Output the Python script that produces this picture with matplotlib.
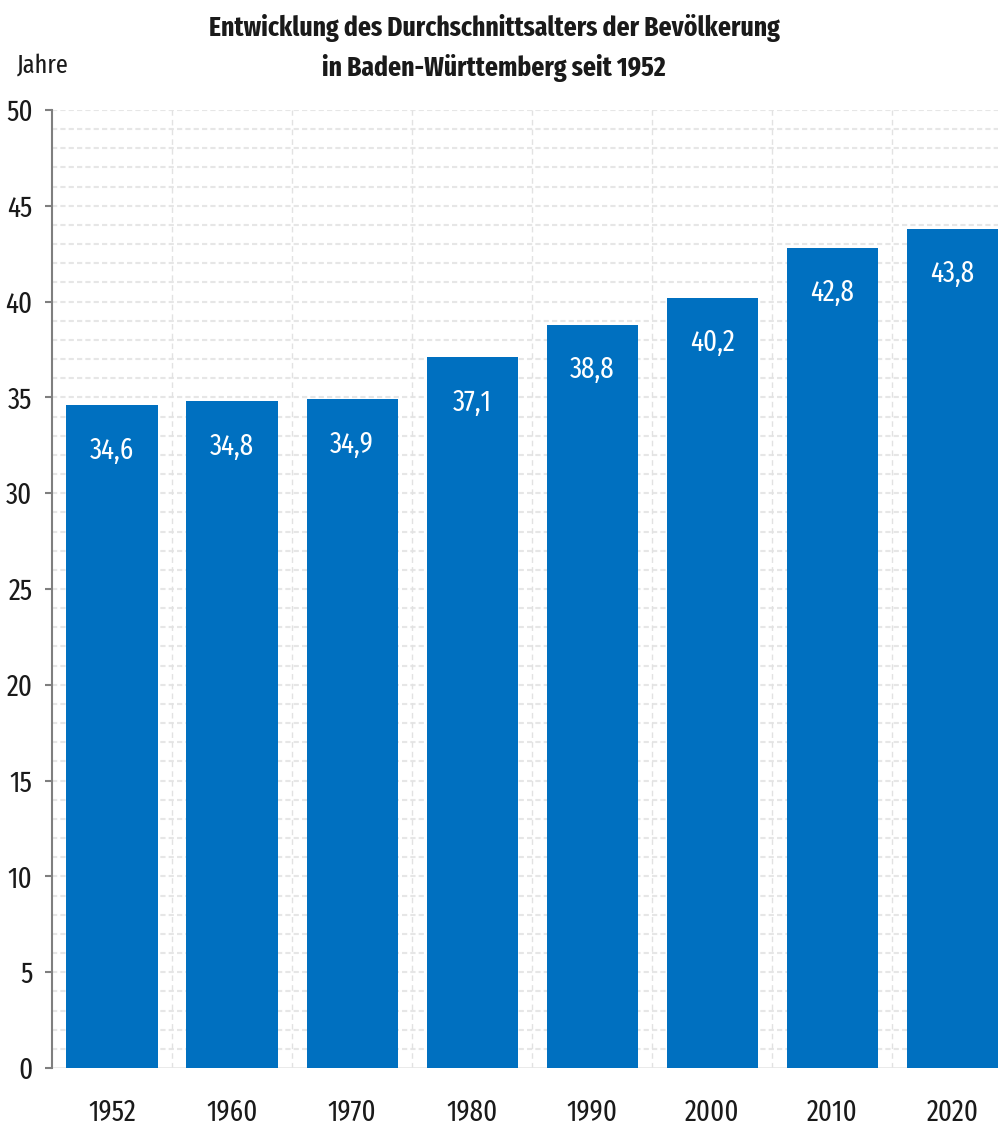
import matplotlib
matplotlib.use("Agg")
import matplotlib.pyplot as plt
import numpy as np

years = ["1952", "1960", "1970", "1980", "1990", "2000", "2010", "2020"]
values = [34.6, 34.8, 34.9, 37.1, 38.8, 40.2, 42.8, 43.8]
labels = ["34,6", "34,8", "34,9", "37,1", "38,8", "40,2", "42,8", "43,8"]
yticks = [0, 5, 10, 15, 20, 25, 30, 35, 40, 45, 50]

FONT = ["Fira Sans Extra Condensed", "DejaVu Sans"]
plt.rcParams["font.family"] = FONT

W, H = 998, 1126
fig = plt.figure(figsize=(W / 100, H / 100), dpi=100)
ax = fig.add_axes([52 / W, 1 - 1068 / H, 1 - 52 / W, (1068 - 110) / H])

blue = "#0070C0"
text_col = "#1a1a1a"
x = np.arange(len(years))
bars = ax.bar(x, values, width=0.76, color=blue, zorder=3)

for xi, v, lab in zip(x, values, labels):
    ax.annotate(lab, (xi, v), xytext=(0, -32.5), textcoords="offset points",
                ha="center", va="center", color="white", fontsize=21, zorder=4)

ax.set_xlim(-0.5, 7.38)
ax.set_ylim(0, 50)

# grid
for yv in range(1, 51):
    ax.axhline(yv, color="#e6e6e6", lw=1.5, ls=(0, (2.5, 1.5)), zorder=1)
for b in np.arange(0.5, 7.5, 1.0):
    ax.axvline(b, color="#e2e2e2", lw=1.0, ls=(0, (4, 3)), zorder=1)
ax.axhline(0, color="#e6e6e6", lw=1.2, zorder=2)

ax.set_yticks(yticks)
ax.set_yticklabels([str(t) for t in yticks], fontsize=21, color=text_col)
ax.set_xticks(x)
ax.set_xticklabels(years, fontsize=21, color=text_col)
ax.tick_params(axis="x", length=0, pad=22)
ax.tick_params(axis="y", length=5, width=1.5, color="#7f7f7f", pad=9)

for s in ["top", "right", "bottom"]:
    ax.spines[s].set_visible(False)
ax.spines["left"].set_color("#7f7f7f")
ax.spines["left"].set_linewidth(1.5)

fig.text(494 / W, 1 - 28 / H, "Entwicklung des Durchschnittsalters der Bevölkerung",
         ha="center", va="center", fontsize=20, fontweight="bold", color=text_col)
fig.text(494 / W, 1 - 68 / H, "in Baden-Württemberg seit 1952",
         ha="center", va="center", fontsize=20, fontweight="bold", color=text_col)
fig.text(17 / W, 1 - 65 / H, "Jahre", ha="left", va="center", fontsize=19, color=text_col)

fig.savefig("out.png", dpi=100)
